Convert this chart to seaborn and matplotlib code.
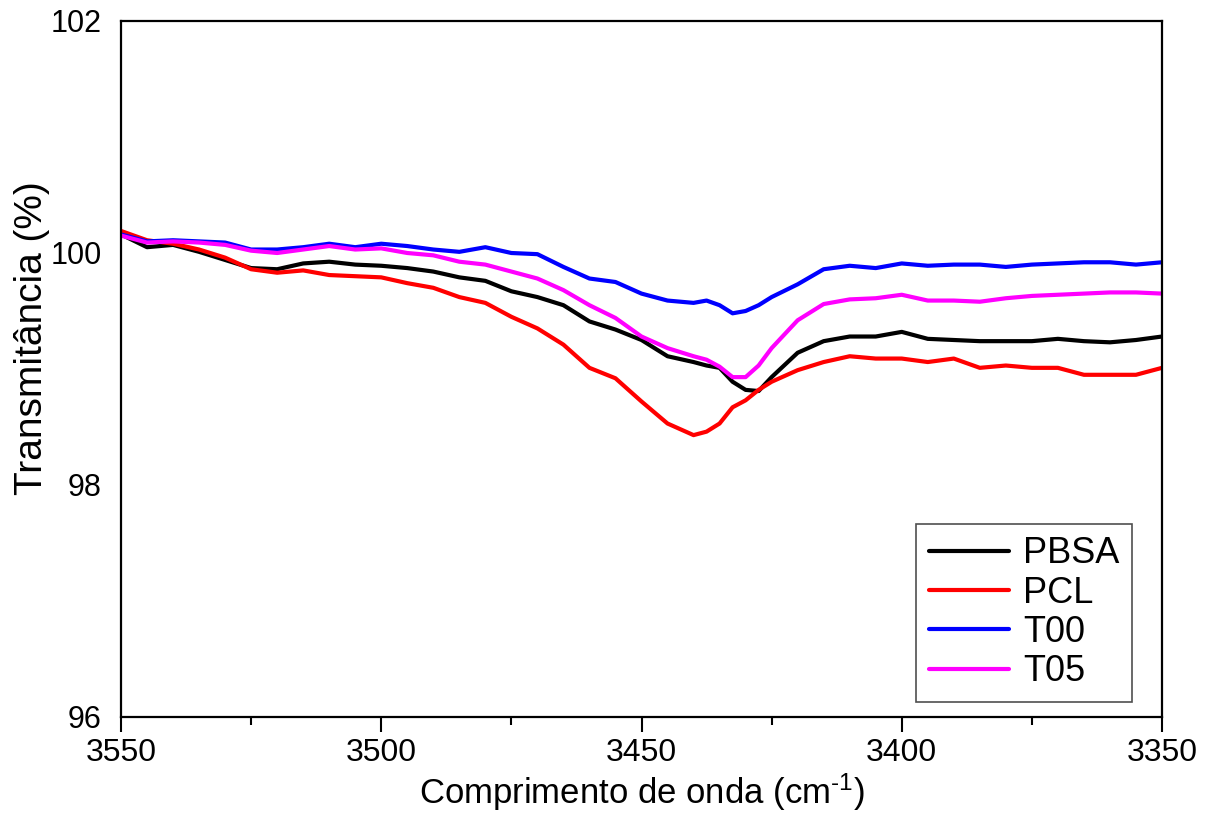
import matplotlib
matplotlib.use("Agg")
import matplotlib.pyplot as plt
import seaborn as sns
import pandas as pd
import numpy as np
from matplotlib.ticker import MultipleLocator
from matplotlib.lines import Line2D

wavenumber = [3550, 3545, 3540, 3535, 3530, 3525, 3520, 3515, 3510, 3505,
              3500, 3495, 3490, 3485, 3480, 3475, 3470, 3465, 3460, 3455,
              3450, 3445, 3440, 3437.5, 3435, 3432.5, 3430, 3427.5, 3425, 3420,
              3415, 3410, 3405, 3400, 3395, 3390, 3385, 3380, 3375, 3370,
              3365, 3360, 3355, 3350]

pbsa = [100.16, 100.05, 100.07, 100.01, 99.94, 99.87, 99.86, 99.91, 99.925, 99.90,
        99.89, 99.87, 99.84, 99.79, 99.76, 99.67, 99.62, 99.55, 99.41, 99.34,
        99.25, 99.11, 99.06, 99.03, 99.01, 98.89, 98.82, 98.81, 98.93, 99.14,
        99.24, 99.28, 99.28, 99.32, 99.26, 99.25, 99.24, 99.24, 99.24, 99.26,
        99.24, 99.23, 99.25, 99.28]

pcl = [100.19, 100.11, 100.08, 100.03, 99.96, 99.86, 99.83, 99.85, 99.81, 99.80,
       99.79, 99.74, 99.70, 99.62, 99.57, 99.45, 99.35, 99.21, 99.01, 98.92,
       98.72, 98.53, 98.43, 98.46, 98.53, 98.67, 98.73, 98.82, 98.89, 98.99,
       99.06, 99.11, 99.09, 99.09, 99.06, 99.09, 99.01, 99.03, 99.01, 99.01,
       98.95, 98.95, 98.95, 99.01]

t00 = [100.16, 100.10, 100.11, 100.10, 100.09, 100.03, 100.03, 100.05, 100.08, 100.05,
       100.08, 100.06, 100.03, 100.01, 100.05, 100.00, 99.99, 99.88, 99.78, 99.75,
       99.65, 99.59, 99.57, 99.59, 99.55, 99.48, 99.50, 99.55, 99.62, 99.73,
       99.86, 99.89, 99.87, 99.91, 99.89, 99.90, 99.90, 99.88, 99.90, 99.91,
       99.92, 99.92, 99.90, 99.92]

t05 = [100.15, 100.09, 100.10, 100.09, 100.07, 100.02, 100.00, 100.03, 100.06, 100.03,
       100.04, 100.00, 99.98, 99.925, 99.90, 99.84, 99.78, 99.68, 99.55, 99.44,
       99.28, 99.18, 99.11, 99.08, 99.02, 98.93, 98.93, 99.03, 99.18, 99.42,
       99.56, 99.60, 99.61, 99.64, 99.59, 99.59, 99.58, 99.61, 99.63, 99.64,
       99.65, 99.66, 99.66, 99.65]

series_names = ["PBSA", "PCL", "T00", "T05"]
series_colors = ["#000000", "#ff0000", "#0000ff", "#ff00ff"]

df = pd.concat([
    pd.DataFrame({"w": wavenumber, "T": vals, "s": name})
    for name, vals in zip(series_names, [pbsa, pcl, t00, t05])
])

sns.set_style("white")
plt.rcParams["font.family"] = ["Liberation Sans", "DejaVu Sans"]
plt.rcParams["mathtext.fontset"] = "custom"
plt.rcParams["mathtext.rm"] = "Liberation Sans"
plt.rcParams["mathtext.it"] = "Liberation Sans"
plt.rcParams["text.color"] = "black"
plt.rcParams["axes.labelcolor"] = "black"
plt.rcParams["xtick.color"] = "black"
plt.rcParams["ytick.color"] = "black"

fig = plt.figure(figsize=(12.06, 8.18), dpi=100)
ax = fig.add_axes([121/1206, 1 - 717/818, (1162-121)/1206, (717-21)/818])

sns.lineplot(data=df, x="w", y="T", hue="s", hue_order=series_names,
             palette=dict(zip(series_names, series_colors)),
             linewidth=3, ax=ax, legend=False, sort=False, estimator=None)

ax.set_xlim(3550, 3350)
ax.set_ylim(96, 102)
ax.xaxis.set_major_locator(MultipleLocator(50))
ax.xaxis.set_minor_locator(MultipleLocator(25))
ax.yaxis.set_major_locator(MultipleLocator(2))

ax.tick_params(axis="x", which="major", direction="out", length=11, width=1.5,
               labelsize=23, pad=4, bottom=True, top=False, colors="black")
ax.tick_params(axis="x", which="minor", direction="out", length=6, width=1.5,
               bottom=True, top=False)
ax.tick_params(axis="y", which="both", length=0, labelsize=22, pad=14, left=True,
               colors="black")

for sp in ax.spines.values():
    sp.set_visible(True)
    sp.set_color("black")
    sp.set_linewidth(1.6)

ax.set_xlabel("Comprimento de onda (cm$^{\\text{-1}}$)", fontsize=25, color="black")
ax.xaxis.set_label_coords(0.5, -0.079)
ax.set_ylabel("Transmitância (%)", fontsize=28, color="black")
ax.yaxis.set_label_coords(-0.068, 0.545)

handles = [Line2D([0], [0], color=c, lw=3) for c in series_colors]
leg = ax.legend(handles, series_names, loc="lower right",
                bbox_to_anchor=(0.9712, 0.0216), fontsize=26, frameon=True,
                fancybox=False, handlelength=2.2, handletextpad=0.4,
                labelspacing=0.12, borderpad=0.35, borderaxespad=0)
leg.get_frame().set_edgecolor("#222222")
leg.get_frame().set_linewidth(1.2)
for t in leg.get_texts():
    t.set_color("black")

fig.savefig("out.png", dpi=100)
